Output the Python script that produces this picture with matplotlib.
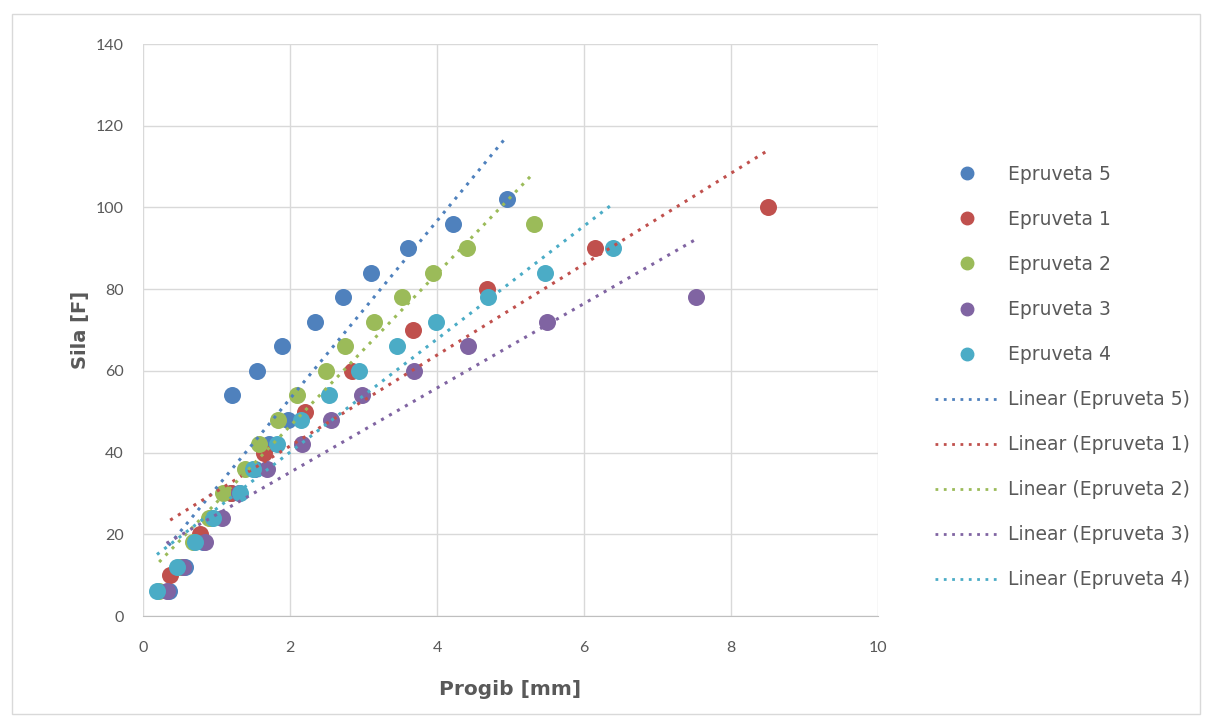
import numpy as np
import matplotlib.pyplot as plt
from matplotlib.lines import Line2D
from matplotlib.patches import Rectangle

# load vs deflection for each specimen
e5_x = [0.35, 0.57, 0.82, 0.92, 1.20, 1.52, 1.72, 1.97, 1.21, 1.55, 1.89, 2.34, 2.72, 3.10, 3.60, 4.22, 4.95]
e5_y = [6, 12, 18, 24, 30, 36, 42, 48, 54, 60, 66, 72, 78, 84, 90, 96, 102]

e1_x = [0.37, 0.78, 1.20, 1.65, 2.20, 2.84, 3.67, 4.68, 6.15, 8.50]
e1_y = [10, 20, 30, 40, 50, 60, 70, 80, 90, 100]

e2_x = [0.22, 0.50, 0.68, 0.90, 1.09, 1.39, 1.58, 1.84, 2.10, 2.49, 2.75, 3.14, 3.53, 3.94, 4.41, 5.32]
e2_y = [6, 12, 18, 24, 30, 36, 42, 48, 54, 60, 66, 72, 78, 84, 90, 96]

e3_x = [0.32, 0.55, 0.85, 1.07, 1.30, 1.69, 2.16, 2.56, 2.98, 3.69, 4.42, 5.50, 7.53]
e3_y = [6, 12, 18, 24, 30, 36, 42, 48, 54, 60, 66, 72, 78]

e4_x = [0.19, 0.46, 0.71, 0.95, 1.32, 1.50, 1.82, 2.15, 2.53, 2.94, 3.46, 3.99, 4.69, 5.47, 6.39]
e4_y = [6, 12, 18, 24, 30, 36, 42, 48, 54, 60, 66, 72, 78, 84, 90]

names = ['Epruveta 5', 'Epruveta 1', 'Epruveta 2', 'Epruveta 3', 'Epruveta 4']
xs = [e5_x, e1_x, e2_x, e3_x, e4_x]
ys = [e5_y, e1_y, e2_y, e3_y, e4_y]
colors = ['#4F81BD', '#C0504D', '#9BBB59', '#8064A2', '#4BACC6']

plt.rcParams['font.family'] = ['Lato', 'DejaVu Sans']

fig = plt.figure(figsize=(12.09, 7.27), dpi=100)
fig.patches.append(Rectangle((12/1209, 1-714/727), 1188/1209, 700/727, transform=fig.transFigure,
                             fill=False, edgecolor='#D9D9D9', linewidth=1))
ax = fig.add_axes([143/1209, 1-616/727, 735/1209, 572/727])

handles = []
for x, y, c, n in zip(xs, ys, colors, names):
    ax.scatter(x, y, s=150, color=c, zorder=3, linewidths=0)
    handles.append(Line2D([], [], marker='o', linestyle='none', markersize=9, color=c, label=n))

# linear trendlines, same as excel: fitted over each series' x range
trend = []
for x, y, c, n in zip(xs, ys, colors, names):
    k, b = np.polyfit(x, y, 1)
    xx = np.array([min(x), max(x)])
    ax.plot(xx, k*xx + b, linestyle=(0, (1, 2)), color=c, linewidth=2.2, zorder=4)
    trend.append(Line2D([], [], linestyle=(0, (1, 2)), color=c, linewidth=2, label='Linear (' + n + ')'))

ax.set_xlim(0, 10)
ax.set_ylim(0, 140)
ax.set_xticks(np.arange(0, 11, 2))
ax.set_yticks(np.arange(0, 141, 20))
ax.grid(True, color='#D9D9D9', linewidth=1)
ax.set_axisbelow(True)
for s in ['top', 'right', 'left']:
    ax.spines[s].set_visible(False)
ax.spines['bottom'].set_color('#BFBFBF')
ax.tick_params(length=0, labelsize=11.5, colors='#595959')
ax.tick_params(axis='x', pad=18)
ax.tick_params(axis='y', pad=14)
ax.set_xlabel('Progib [mm]', fontsize=14.5, fontweight='bold', color='#595959', labelpad=18,
              family='DejaVu Sans')
ax.set_ylabel('Sila [F]', fontsize=14, fontweight='bold', color='#595959', labelpad=4,
              family='DejaVu Sans')

leg = fig.legend(handles=handles + trend, loc='upper left', bbox_to_anchor=(918/1209, 1-148/727),
                 frameon=False, prop={'family': 'DejaVu Sans', 'size': 13.5}, labelspacing=1.39,
                 handlelength=3.4, handletextpad=0.5, labelcolor='#595959')

fig.savefig('out.png', dpi=100)
